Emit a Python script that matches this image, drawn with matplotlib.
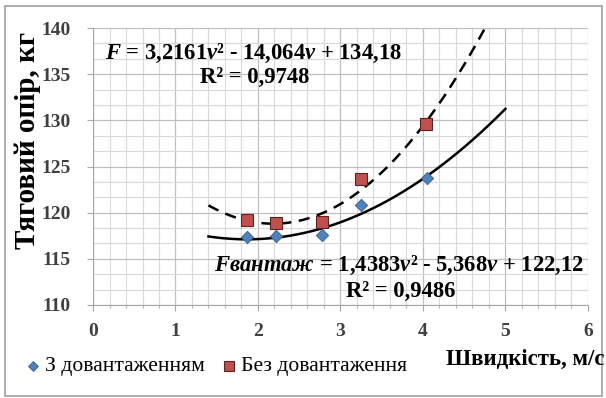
import numpy as np
import matplotlib.pyplot as plt
from matplotlib.ticker import MultipleLocator
from matplotlib.patches import Rectangle

SERIF = "Liberation Serif"
plt.rcParams['font.family'] = 'serif'
plt.rcParams['font.serif'] = [SERIF, 'DejaVu Serif']
plt.rcParams['mathtext.fontset'] = 'custom'
plt.rcParams['mathtext.rm'] = 'Liberation Serif:bold'
plt.rcParams['mathtext.it'] = 'Liberation Serif:bold:italic'
plt.rcParams['mathtext.bf'] = 'Liberation Serif:bold'

# measured points
speed_loaded = [1.87, 2.22, 2.78, 3.25, 4.05]
force_loaded = [117.4, 117.5, 117.6, 120.8, 123.8]
speed_free = [1.87, 2.22, 2.78, 3.25, 4.04]
force_free = [119.2, 118.9, 119.0, 123.6, 129.6]

# trend coefficients (a, b, c) for a*v^2 + b*v + c
coef_loaded = [1.4383, -5.368, 122.12]
coef_free = [3.2161, -14.064, 134.18]
trend_range_loaded = [1.4, 5.0]
trend_range_free = [1.4, 4.75]

label_loaded = "З довантаженням"
label_free = "Без довантаження"

fig = plt.figure(figsize=(6.06, 3.98), dpi=100)
ax = fig.add_axes([0.1535, 0.2337, 0.8165, 0.6959])

v1 = np.linspace(*trend_range_loaded, 200)
v2 = np.linspace(*trend_range_free, 200)
ax.plot(v1, np.polyval(coef_loaded, v1), color="black", lw=1.8, zorder=3)
ax.plot(v2, np.polyval(coef_free, v2), color="black", lw=1.8,
        linestyle=(0, (4.5, 3)), zorder=3)

ax.scatter(speed_loaded, force_loaded, marker="D", s=40, color="#4F81BD",
           edgecolor="#385D8A", linewidth=0.6, zorder=4, label=label_loaded)
ax.scatter(speed_free, force_free, marker="s", s=70, color="#C0504D",
           edgecolor="#5A2422", linewidth=0.8, zorder=4, label=label_free)

ax.set_xlim(0, 6)
ax.set_ylim(110, 140)
ax.xaxis.set_major_locator(MultipleLocator(1))
ax.xaxis.set_minor_locator(MultipleLocator(0.2))
ax.yaxis.set_major_locator(MultipleLocator(5))
ax.yaxis.set_minor_locator(MultipleLocator(5 / 3))
ax.grid(which="major", color="#BFBFBF", lw=0.9)
ax.grid(which="minor", color="#D9D9D9", lw=0.8)
ax.set_axisbelow(True)

for side in ["top", "right"]:
    ax.spines[side].set_visible(False)
for side in ["left", "bottom"]:
    ax.spines[side].set_color("#A6A6A6")
ax.tick_params(which="both", color="#A6A6A6")
ax.tick_params(which="major", length=4)
ax.tick_params(axis="x", which="minor", length=2.5)
ax.tick_params(axis="y", which="minor", length=0)
ax.tick_params(axis="x", pad=9)
ax.tick_params(axis="y", pad=12)
for lbl in ax.get_xticklabels() + ax.get_yticklabels():
    lbl.set_fontfamily(SERIF)
    lbl.set_fontsize(14)
    lbl.set_fontweight("bold")
    lbl.set_color("#404040")

fig.text(0.045, 0.648, "Тяговий опір, кг", rotation=90, ha="center",
         va="center", fontsize=21, fontweight="bold", family=SERIF)
fig.text(0.997, 0.098, "Швидкість, м/с", ha="right", va="center",
         fontsize=16.5, fontweight="bold", family=SERIF)

eq_kw = dict(fontsize=16.3, fontweight="bold", family=SERIF, zorder=5)
ax.text(0.14, 136.6, r"$F$ = 3,2161$v$² - 14,064$v$ + 134,18", **eq_kw)
ax.text(1.3, 134.0, "R² = 0,9748", **eq_kw)
ax.text(1.47, 113.65, r"$Fвантаж$ = 1,4383$v$² - 5,368$v$ + 122,12", **eq_kw)
ax.text(3.07, 110.9, "R² = 0,9486", **eq_kw)

fig.legend(loc="center left", bbox_to_anchor=(0.005, 0.08), ncol=2,
           frameon=False, prop={"family": SERIF, "size": 15.6},
           handletextpad=0.05, columnspacing=0.6,
           handlelength=1.0, markerscale=0.8)

fig.patches.append(Rectangle((0.008, 0.006), 0.985, 0.978,
                             transform=fig.transFigure, fill=False,
                             edgecolor="#A0A0A0", lw=1.2))

fig.savefig("out.png", dpi=100)
